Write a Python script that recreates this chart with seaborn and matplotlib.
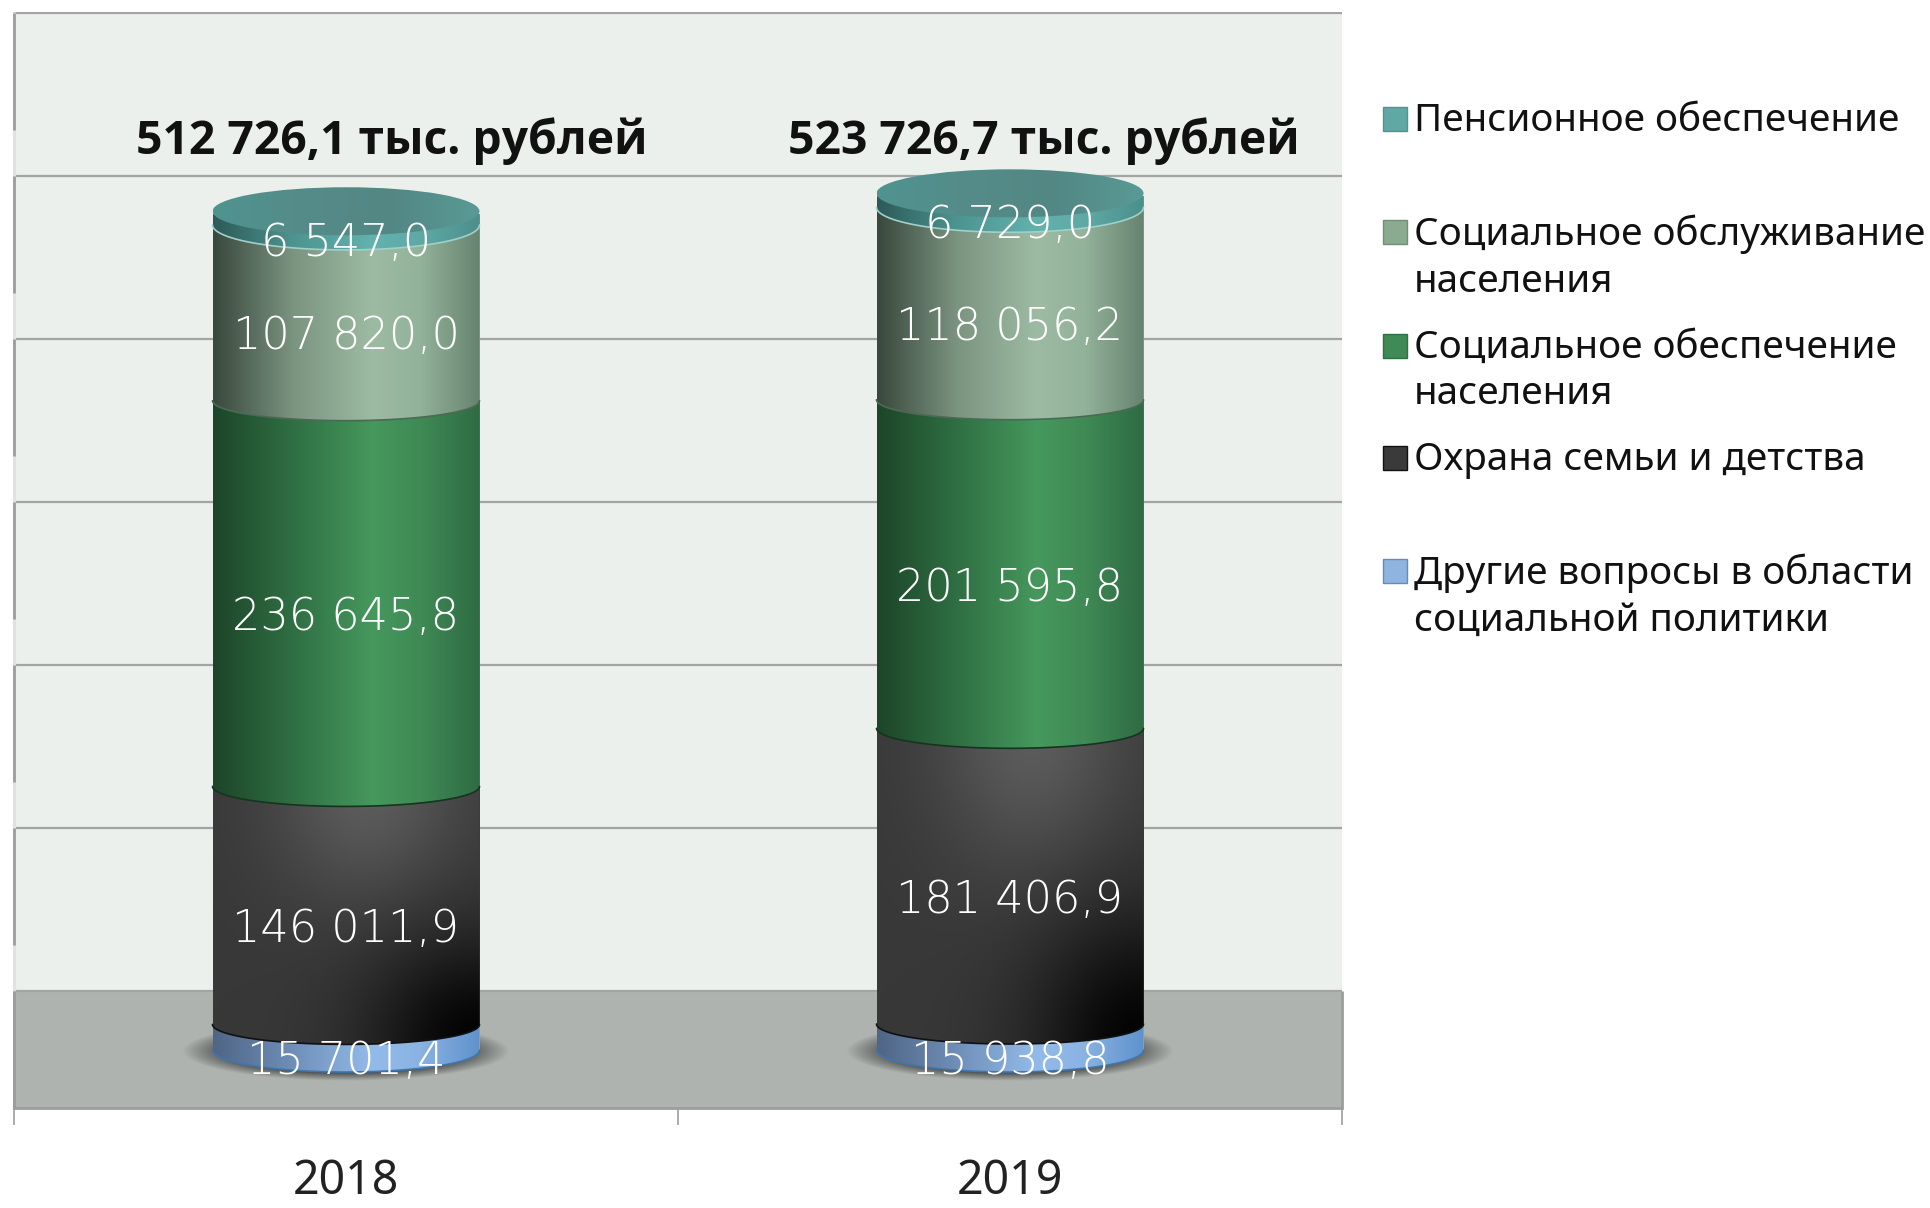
import numpy as np
import matplotlib
matplotlib.use("Agg")
import matplotlib.pyplot as plt
from matplotlib.patches import Polygon, Ellipse, Rectangle, Patch
from matplotlib.colors import LinearSegmentedColormap
from matplotlib.legend_handler import HandlerPatch
import seaborn as sns

years = ["2018", "2019"]
other = [15701.4, 15938.8]
family = [146011.9, 181406.9]
security = [236645.8, 201595.8]
service = [107820.0, 118056.2]
pension = [6547.0, 6729.0]
totals = ["512 726,1 тыс. рублей", "523 726,7 тыс. рублей"]
fmt_other = ["15 701,4", "15 938,8"]
fmt_family = ["146 011,9", "181 406,9"]
fmt_security = ["236 645,8", "201 595,8"]
fmt_service = ["107 820,0", "118 056,2"]
fmt_pension = ["6 547,0", "6 729,0"]
names = ["Другие вопросы в области\nсоциальной политики",
         "Охрана семьи и детства",
         "Социальное обеспечение\nнаселения",
         "Социальное обслуживание\nнаселения",
         "Пенсионное обеспечение"]

series = [other, family, security, service, pension]
formats = [fmt_other, fmt_family, fmt_security, fmt_service, fmt_pension]
base_cols = ["#8fb4e0", "#3a3a3a", "#3f8a55", "#8aab90", "#5fa8a3"]
stops = [
    ["#4f6585", "#6f8fb8", "#93bbea", "#8ab2e2", "#5f92cc"],
    None,
    ["#1d4529", "#2f6f43", "#46985d", "#3f8a55", "#2f6b43"],
    ["#39483d", "#7b9480", "#9dbba3", "#93b29a", "#66836f"],
    ["#2c5a58", "#4d9490", "#62b2ad", "#5fa9a5", "#4c8f8b"],
]
edge_cols = ["#3f76ae", "#111111", "#14351f", "#4b6a55", "#9fd0cc"]

sns.set_theme(style="white")
plt.rcParams["font.family"] = ["Noto Sans", "DejaVu Sans"]

W, H = 1930, 1208
fig = plt.figure(figsize=(W / 100, H / 100), dpi=100, facecolor="white")
AX_L, AX_R, AX_T, AX_B = 14, 1342, 12, 1108
ax = fig.add_axes([AX_L / W, 1 - AX_B / H, (AX_R - AX_L) / W, (AX_B - AX_T) / H])

PX_PER_UNIT = 1.63 / 1000
BASE_PX = 1050
def val(px):
    return (BASE_PX - px) / PX_PER_UNIT
PX_PER_CAT = (AX_R - AX_L) / 2
BAR_W = 267 / PX_PER_CAT
sags = [s / PX_PER_UNIT for s in (22, 20, 20, 20, 25)]

ax.set_facecolor("#ebf0ec")
bottoms = np.zeros(2)
for i, s in enumerate(series):
    sns.barplot(x=years, y=s, bottom=bottoms, color=base_cols[i], width=BAR_W,
                saturation=1, ax=ax, zorder=5 + i * 2, linewidth=0)
    bottoms = bottoms + np.array(s)

y0, y1 = val(AX_B), val(AX_T)
ax.set_xlim(-0.5, 1.5)
ax.set_ylim(y0, y1)

# floor and wall grid
floor_top = val(991)
ax.axhspan(y0, floor_top, color="#aeb3af", zorder=1, lw=0)
grid_vals = [floor_top + 100000 * k for k in range(7)]
GRID_C = "#a2a5a3"
ax.hlines(grid_vals, -0.5, 1.5, color=GRID_C, lw=1.6, zorder=1.5)
ax.vlines(-0.5, y0, y1, color="#dfe2e0", lw=2.2, zorder=1.6, clip_on=False)
for g in grid_vals:
    ax.vlines(-0.5, max(g - 72000, y0), g, color="#9b9e9c", lw=2.0, zorder=1.7, clip_on=False)
ax.vlines(-0.5, y0, floor_top, color="#9b9e9c", lw=2.0, zorder=1.7, clip_on=False)
ax.vlines(1.5, y0, floor_top, color="#9b9e9c", lw=2.0, zorder=1.7, clip_on=False)

# soft shadows on the floor
yy, xx = np.mgrid[-1:1:120j, -1:1:300j]
r = np.sqrt(xx ** 2 + yy ** 2)
shadow = np.zeros(r.shape + (4,))
shadow[..., :3] = 0.13
shadow[..., 3] = np.clip((1 - r) * 3.0, 0, 1) * 0.85
for c in range(2):
    ax.imshow(shadow, extent=[c - 164 / PX_PER_CAT, c + 164 / PX_PER_CAT, val(1081), val(1021)],
              aspect="auto", zorder=2, interpolation="bilinear")

def body_shape(c, lo, hi, sag):
    t = np.linspace(np.pi, 2 * np.pi, 80)
    xs = c + BAR_W / 2 * np.cos(t)
    ys = lo + sag * np.sin(t)
    pts = np.column_stack([xs, ys])
    pts = np.vstack([pts, [c + BAR_W / 2, hi], [c - BAR_W / 2, hi]])
    return pts

def black_image():
    yg, xg = np.mgrid[0:1:200j, 0:1:200j]
    L = 0.22 + 0.14 * np.exp(-(((xg - 0.58) / 0.36) ** 2 + (yg / 0.45) ** 2))
    d = np.exp(-(((xg - 1.0) / 0.42) ** 2 + ((yg - 1.0) / 0.42) ** 2))
    L = L * (1 - 0.95 * d)
    return np.dstack([L, L, L])

positions = [0, 0.3, 0.6, 0.78, 1]
for c in range(2):
    lo = 0.0
    for i, s in enumerate(series):
        hi = lo + s[c]
        sag = sags[i]
        pts = body_shape(c, lo, hi, sag)
        clip = Polygon(pts, closed=True, transform=ax.transData)
        if stops[i] is None:
            img = black_image()
            kw = {}
        else:
            cmap = LinearSegmentedColormap.from_list("g", list(zip(positions, stops[i])))
            img = np.linspace(0, 1, 256)[None, :]
            kw = {"cmap": cmap, "vmin": 0, "vmax": 1}
        im = ax.imshow(img, extent=[c - BAR_W / 2, c + BAR_W / 2, lo - sag, hi], aspect="auto",
                       zorder=6 + i * 2, interpolation="bilinear", **kw)
        im.set_clip_path(clip)
        t = np.linspace(np.pi, 2 * np.pi, 80)
        ax.plot(c + BAR_W / 2 * np.cos(t), lo + sag * np.sin(t), color=edge_cols[i], lw=1.2,
                zorder=6.5 + i * 2)
        lo = hi
    # top cap
    cap_c = lo + 3 / PX_PER_UNIT
    cap = Ellipse((c, cap_c), BAR_W, 2 * 24 / PX_PER_UNIT, transform=ax.transData)
    cmap = LinearSegmentedColormap.from_list("cap", ["#4f9490", "#558b88", "#528784", "#5a9a96"])
    im = ax.imshow(np.linspace(0, 1, 256)[None, :], extent=[c - BAR_W / 2, c + BAR_W / 2,
                   cap_c - 30 / PX_PER_UNIT, cap_c + 30 / PX_PER_UNIT], aspect="auto", cmap=cmap,
                   vmin=0, vmax=1, zorder=18, interpolation="bilinear")
    im.set_clip_path(cap)

# value labels
for i, s in enumerate(series):
    lo = np.zeros(2) if i == 0 else np.sum(series[:i], axis=0)
    for c in range(2):
        ax.annotate(formats[i][c], (c, lo[c] + s[c] / 2), xytext=(0, -17.3),
                    textcoords="offset points", ha="center", va="center", color="white",
                    fontsize=32, family="DejaVu Sans", fontweight=200, zorder=30)

# totals
total_dx = [46 / PX_PER_CAT, 34 / PX_PER_CAT]
for c in range(2):
    ax.text(c + total_dx[c], val(141), totals[c], ha="center", va="center", fontsize=33.3,
            family="Open Sans", fontweight="bold", color="#111111", zorder=30, clip_on=False)

# axes furniture
for side in ["top", "left", "right"]:
    ax.spines[side].set_visible(False)
ax.spines["bottom"].set_color("#9b9e9c")
ax.spines["bottom"].set_linewidth(2.0)
ax.set_yticks([])
ax.set_xticks([0, 1])
ax.set_xticklabels(years, fontsize=33.5, color="#222222")
ax.tick_params(axis="x", which="major", length=0, pad=36)
ax.set_xticks([-0.5, 0.5, 1.5], minor=True)
ax.tick_params(axis="x", which="minor", length=12.5, width=1.2, color="#9b9e9c", bottom=True)
ax.set_xlabel("")
ax.set_ylabel("")

# legend
class SquareHandler(HandlerPatch):
    def create_artists(self, legend, orig_handle, xdescent, ydescent, width, height, fontsize, trans):
        size = 17.3
        r = Rectangle((width - size, 19.9 - ydescent), size, size, facecolor=orig_handle.get_facecolor(),
                      edgecolor=orig_handle.get_edgecolor(), lw=1.0, transform=trans)
        return [r]

order = [4, 3, 2, 1, 0]
leg_cols = ["#8fb4e0", "#3a3a3a", "#3f8a55", "#8aab90", "#5fa8a3"]
leg_edge = ["#5f8fb8", "#111111", "#2f7044", "#6f8f76", "#4f9490"]
handles = [Patch(facecolor=leg_cols[i], edgecolor=leg_edge[i]) for i in order]
labels = [names[i] if "\n" in names[i] else names[i] + "\n " for i in order]
leg = fig.legend(handles, labels, loc="upper left", bbox_to_anchor=(1383 / W, 1 - 102 / H),
                 bbox_transform=fig.transFigure, frameon=False, fontsize=27.8, handlelength=0.622,
                 handleheight=0.7, handletextpad=0.17, labelspacing=0.72, borderpad=0, borderaxespad=0,
                 handler_map={Patch: SquareHandler()})
for t in leg.get_texts():
    t.set_color("#111111")
    t.set_linespacing(1.30)

fig.savefig("out.png", dpi=100, facecolor="white")
